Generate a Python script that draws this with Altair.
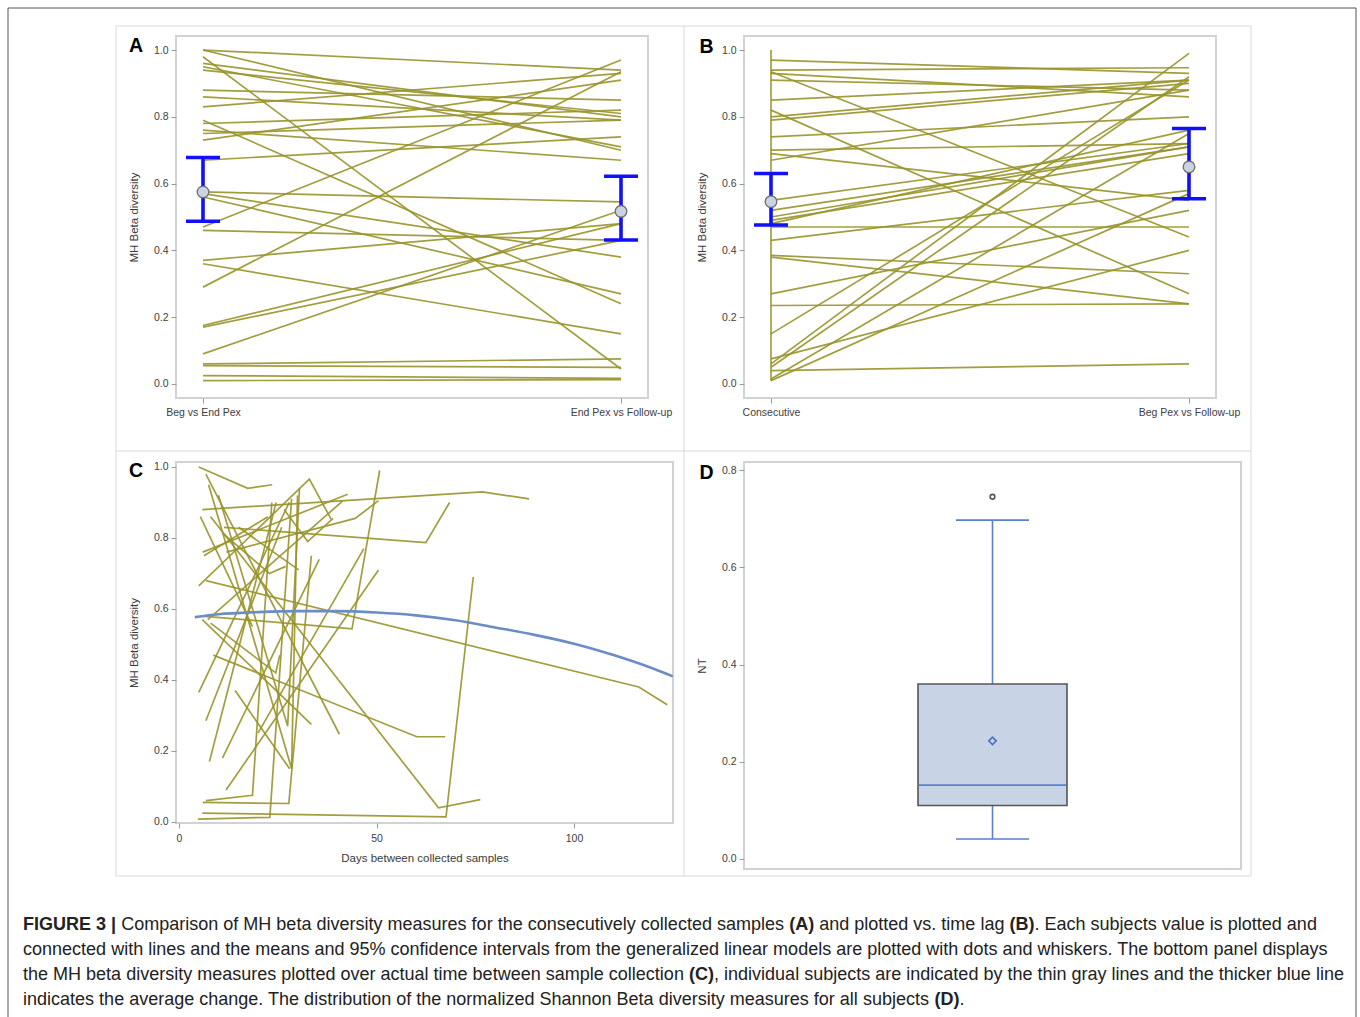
import altair as alt
import pandas as pd

FONT = "Liberation Sans"
OLIVE = "#98942a"
ERR_BLUE = "#1010ff"
LABEL_GRAY = "#404040"

# ---------------- Panel A ----------------
A_categories = ["Beg vs End Pex", "End Pex vs Follow-up"]
A_first = [1.00, 1.00, 0.98, 0.96, 0.95, 0.94, 0.88, 0.86, 0.83, 0.79, 0.78, 0.76, 0.75, 0.73, 0.67,
           0.575, 0.57, 0.56, 0.47, 0.46, 0.37, 0.36, 0.29, 0.175, 0.17, 0.09, 0.06, 0.055, 0.025, 0.01]
A_second = [0.94, 0.70, 0.045, 0.80, 0.71, 0.81, 0.85, 0.79, 0.93, 0.24, 0.82, 0.67, 0.79, 0.91, 0.74,
            0.545, 0.38, 0.27, 0.97, 0.43, 0.48, 0.15, 0.935, 0.48, 0.43, 0.52, 0.075, 0.05, 0.017, 0.013]
A_mean = [0.575, 0.517]
A_low = [0.487, 0.431]
A_high = [0.678, 0.622]

# ---------------- Panel B ----------------
B_categories = ["Consecutive", "Beg Pex vs Follow-up"]
B_first = [0.97, 0.94, 0.935, 0.93, 0.91, 0.85, 0.82, 0.80, 0.79, 0.74, 0.70, 0.69, 0.67, 0.55, 0.52,
           0.50, 0.49, 0.48, 0.47, 0.43, 0.385, 0.38, 0.27, 0.235, 0.15, 0.075, 0.06, 0.05, 0.04, 0.01, 0.015]
B_second = [0.93, 0.947, 0.44, 0.86, 0.88, 0.91, 0.27, 0.91, 0.90, 0.80, 0.72, 0.55, 0.88, 0.72, 0.71,
            0.71, 0.69, 0.76, 0.47, 0.58, 0.33, 0.24, 0.52, 0.24, 0.91, 0.40, 0.99, 0.92, 0.06, 0.57, 0.75]
B_span = [0.01, 1.0]
B_mean = [0.546, 0.650]
B_low = [0.476, 0.555]
B_high = [0.630, 0.765]

# ---------------- Panel C ----------------
C_subjects = [
    [[5.0, 1.00], [17.4, 0.94], [23.6, 0.95]],
    [[5.9, 0.88], [76.8, 0.93], [88.6, 0.91]],
    [[6.8, 0.68], [116.4, 0.38], [123.6, 0.33]],
    [[5.9, 0.025], [67.6, 0.014], [74.5, 0.69]],
    [[6.8, 0.06], [18.6, 0.075], [23.5, 0.90]],
    [[6.0, 0.055], [27.8, 0.052], [33.5, 0.75]],
    [[4.8, 0.008], [23.0, 0.013], [28.5, 0.91]],
    [[8.0, 0.86], [65.7, 0.04], [76.3, 0.063]],
    [[8.7, 0.47], [60.2, 0.24], [67.4, 0.24]],
    [[11.4, 0.83], [62.5, 0.787], [68.5, 0.90]],
    [[12.0, 0.76], [44.6, 0.855], [50.5, 0.905]],
    [[5.9, 0.58], [43.8, 0.544], [50.8, 0.99]],
    [[20.0, 0.25], [46.8, 0.77]],
    [[11.9, 0.09], [50.5, 0.71]],
    [[6.8, 0.98], [40.6, 0.247]],
    [[7.5, 0.95], [28.5, 0.15], [30.0, 0.92]],
    [[10.0, 0.92], [27.5, 0.27], [30.5, 0.94]],
    [[8.0, 0.56], [24.5, 0.42], [25.5, 0.47]],
    [[11.4, 0.81], [22.9, 0.70], [27.0, 0.72]],
    [[5.4, 0.86], [18.6, 0.55]],
    [[26.6, 0.88], [32.6, 0.79], [39.0, 0.855]],
    [[7.7, 0.17], [24.6, 0.90]],
    [[11.0, 0.18], [35.5, 0.74]],
    [[6.3, 0.75], [22.5, 0.86]],
    [[5.0, 0.365], [27.9, 0.90]],
    [[5.0, 0.665], [33.0, 0.966], [38.5, 0.853]],
    [[7.3, 0.57], [41.4, 0.904]],
    [[6.0, 0.76], [42.7, 0.923]],
    [[6.8, 0.285], [26.0, 0.83]],
    [[14.2, 0.37], [28.0, 0.15]],
    [[15.1, 0.83], [30.3, 0.71]],
    [[5.9, 0.57], [33.5, 0.275]],
]
C_fit_days = [4, 10, 20, 30, 40, 50, 60, 70, 80, 90, 100, 110, 120, 125]
C_fit_values = [0.577, 0.585, 0.591, 0.594, 0.594, 0.590, 0.582, 0.568, 0.548, 0.527, 0.502, 0.470, 0.432, 0.410]

# ---------------- Panel D ----------------
D_group = ["NT"]
D_q1 = [0.110]
D_median = [0.152]
D_q3 = [0.360]
D_whisker_low = [0.041]
D_whisker_high = [0.697]
D_mean = [0.243]
D_outlier = [0.745]

# ---------------- Caption ----------------
caption_lines = [
    [("FIGURE 3 |", True),
     (" Comparison of MH beta diversity measures for the consecutively collected samples ", False),
     ("(A)", True), (" and plotted vs. time lag ", False), ("(B)", True),
     (". Each subjects value is plotted and", False)],
    [("connected with lines and the means and 95% confidence intervals from the generalized linear "
      "models are plotted with dots and whiskers. The bottom panel displays", False)],
    [("the MH beta diversity measures plotted over actual time between sample collection ", False),
     ("(C)", True),
     (", individual subjects are indicated by the thin gray lines and the thicker blue line", False)],
    [("indicates the average change. The distribution of the normalized Shannon Beta diversity "
      "measures for all subjects ", False), ("(D)", True), (".", False)],
]

# Arial / Liberation Sans advance widths (1/1000 em)
REG_W = {" ": 278, ".": 278, ",": 278, "(": 333, ")": 333, "%": 889, "|": 260, "-": 333,
         "a": 556, "b": 556, "c": 500, "d": 556, "e": 556, "f": 278, "g": 556, "h": 556, "i": 222,
         "j": 222, "k": 500, "l": 222, "m": 833, "n": 556, "o": 556, "p": 556, "q": 556, "r": 333,
         "s": 500, "t": 278, "u": 556, "v": 500, "w": 722, "x": 500, "y": 500, "z": 500,
         "A": 667, "B": 667, "C": 722, "D": 722, "E": 667, "F": 611, "G": 778, "H": 722, "I": 278,
         "M": 833, "S": 667, "T": 611, "U": 722, "R": 722}
BOLD_W = {" ": 278, "(": 333, ")": 333, "|": 280, "A": 722, "B": 722, "C": 722, "D": 722,
          "E": 667, "F": 611, "G": 778, "I": 278, "R": 722, "U": 722}


def text_units(s, bold):
    table = BOLD_W if bold else REG_W
    return sum(table.get(ch, 556) for ch in s)


line1_units = sum(text_units(t, b) for t, b in caption_lines[0])
CAPTION_LEFT = 22
CAPTION_RIGHT1 = 1316
cap_fs = round((CAPTION_RIGHT1 - CAPTION_LEFT) * 1000.0 / line1_units, 2)

cap_rows = []
for li, segs in enumerate(caption_lines):
    cursor = CAPTION_LEFT
    for t, b in segs:
        lead = len(t) - len(t.lstrip(" "))
        xpos = cursor + text_units(" " * lead, b) * cap_fs / 1000.0
        cap_rows.append({"line": li, "x": xpos, "text": t.strip(" "), "bold": 1 if b else 0})
        cursor += text_units(t, b) * cap_fs / 1000.0
cap_df = pd.DataFrame(cap_rows)
cap_df["y"] = 924 + 25 * cap_df["line"]

# ---------------- helpers ----------------
Y_TICKS_AB = [0.0, 0.2, 0.4, 0.6, 0.8, 1.0]


def y_axis(values, title):
    return alt.Axis(values=values, format=".1f", title=title, titlePadding=14,
                    labelPadding=3, tickSize=5, labelFontSize=10.5, titleFontSize=11.5)


def letter_layer(letter, dx, dy):
    return alt.Chart(pd.DataFrame({"t": [letter]})).mark_text(
        font=FONT, fontSize=19.5, fontWeight="bold", color="black", align="center", baseline="middle"
    ).encode(text="t:N", x=alt.value(dx), y=alt.value(dy))


def pair_panel(first, second, cats, means, lows, highs, letter, span=None):
    rows = []
    for i, (a, b) in enumerate(zip(first, second)):
        rows.append({"id": str(i), "pos": 0, "ord": 0, "val": a})
        rows.append({"id": str(i), "pos": 1, "ord": 1, "val": b})
    if span is not None:
        rows.append({"id": "span", "pos": 0, "ord": 0, "val": span[0]})
        rows.append({"id": "span", "pos": 0, "ord": 1, "val": span[1]})
    df = pd.DataFrame(rows)
    err = pd.DataFrame({"pos": [0, 1], "mean": means, "lo": lows, "hi": highs})

    xs = alt.Scale(domain=[-0.0646, 1.0646], nice=False, zero=False)
    ys = alt.Scale(domain=[-0.042, 1.042], nice=False, zero=False)
    label_expr = "datum.value < 0.5 ? '%s' : '%s'" % (cats[0], cats[1])
    xaxis = alt.Axis(values=[0, 1], labelExpr=label_expr, title=None, labelPadding=4,
                     tickSize=5, labelFontSize=10.5)
    yaxis = y_axis(Y_TICKS_AB, "MH Beta diversity")

    lines = alt.Chart(df).mark_line(color=OLIVE, strokeWidth=1.7, opacity=0.9).encode(
        x=alt.X("pos:Q", scale=xs, axis=xaxis),
        y=alt.Y("val:Q", scale=ys, axis=yaxis),
        detail="id:N", order="ord:Q")
    base = alt.Chart(err).encode(x=alt.X("pos:Q", scale=xs))
    rule = base.mark_rule(color=ERR_BLUE, strokeWidth=3.6).encode(
        y=alt.Y("lo:Q", scale=ys), y2="hi:Q")
    cap_lo = base.mark_tick(color=ERR_BLUE, orient="horizontal", size=34, thickness=3.5, opacity=1).encode(
        y=alt.Y("lo:Q", scale=ys))
    cap_hi = base.mark_tick(color=ERR_BLUE, orient="horizontal", size=34, thickness=3.5, opacity=1).encode(
        y=alt.Y("hi:Q", scale=ys))
    dot = base.mark_point(shape="circle", filled=True, fill="#c9d3e3", stroke="#6e6e6e",
                          strokeWidth=1.3, size=135, opacity=1).encode(y=alt.Y("mean:Q", scale=ys))
    letter_dx = -40 if letter == "A" else -37.5
    letter_dy = 10 if letter == "A" else 10.7
    return alt.layer(lines, rule, cap_lo, cap_hi, dot, letter_layer(letter, letter_dx, letter_dy)).properties(
        width=472, height=362)


panel_a = pair_panel(A_first, A_second, A_categories, A_mean, A_low, A_high, "A")
panel_b = pair_panel(B_first, B_second, B_categories, B_mean, B_low, B_high, "B", span=B_span)

# ---------------- Panel C chart ----------------
c_rows = []
for sid, pts in enumerate(C_subjects):
    for k, (d, v) in enumerate(pts):
        c_rows.append({"id": str(sid), "ord": k, "day": d, "val": v})
c_df = pd.DataFrame(c_rows)
fit_df = pd.DataFrame({"day": C_fit_days, "val": C_fit_values})

cxs = alt.Scale(domain=[-0.76, 125.06], nice=False, zero=False)
cys = alt.Scale(domain=[-0.003, 1.014], nice=False, zero=False)
c_lines = alt.Chart(c_df).mark_line(color=OLIVE, strokeWidth=1.7, opacity=0.9).encode(
    x=alt.X("day:Q", scale=cxs,
            axis=alt.Axis(values=[0, 50, 100], title="Days between collected samples", labelPadding=5,
                          tickSize=5, labelFontSize=10.5, titleFontSize=11.5, titlePadding=9)),
    y=alt.Y("val:Q", scale=cys, axis=y_axis(Y_TICKS_AB, "MH Beta diversity")),
    detail="id:N", order="ord:Q")
c_fit = alt.Chart(fit_df).mark_line(color="#6b8cc4", strokeWidth=2.6, interpolate="monotone").encode(
    x=alt.X("day:Q", scale=cxs), y=alt.Y("val:Q", scale=cys))
panel_c = alt.layer(c_lines, c_fit, letter_layer("C", -40, 9)).properties(width=497, height=361)

# ---------------- Panel D chart ----------------
d_df = pd.DataFrame({"grp": D_group, "q1": D_q1, "med": D_median, "q3": D_q3,
                     "wlo": D_whisker_low, "whi": D_whisker_high, "mean": D_mean, "out": D_outlier})
dys = alt.Scale(domain=[-0.0206, 0.8165], nice=False, zero=False)
dbase = alt.Chart(d_df).encode(x=alt.X("grp:N", axis=None))
WHISK = "#5b7fca"
d_wlo = dbase.mark_rule(color=WHISK, strokeWidth=1.6).encode(
    y=alt.Y("wlo:Q", scale=dys, axis=alt.Axis(values=[0.0, 0.2, 0.4, 0.6, 0.8], format=".1f", title="NT",
                                              titlePadding=14, labelPadding=3, tickSize=5,
                                              labelFontSize=10.5, titleFontSize=11.5)),
    y2="q1:Q")
d_whi = dbase.mark_rule(color=WHISK, strokeWidth=1.6).encode(y=alt.Y("q3:Q", scale=dys), y2="whi:Q")
d_box = dbase.mark_bar(size=149, fill="#c8d4e6", stroke="#555555", strokeWidth=1.6).encode(
    y=alt.Y("q1:Q", scale=dys), y2="q3:Q")
d_med = dbase.mark_tick(color=WHISK, orient="horizontal", size=147, thickness=1.6, opacity=1).encode(
    y=alt.Y("med:Q", scale=dys))
d_cap_lo = dbase.mark_tick(color=WHISK, orient="horizontal", size=73, thickness=1.6, opacity=1).encode(
    y=alt.Y("wlo:Q", scale=dys))
d_cap_hi = dbase.mark_tick(color=WHISK, orient="horizontal", size=73, thickness=1.6, opacity=1).encode(
    y=alt.Y("whi:Q", scale=dys))
d_mean = dbase.mark_point(shape="diamond", filled=False, color="#4a6fc0", strokeWidth=1.6, size=55,
                          opacity=1).encode(y=alt.Y("mean:Q", scale=dys))
d_out = dbase.mark_point(shape="circle", filled=False, color="#555555", strokeWidth=1.6, size=22,
                         opacity=1).encode(y=alt.Y("out:Q", scale=dys))
panel_d = alt.layer(d_wlo, d_whi, d_box, d_med, d_cap_lo, d_cap_hi, d_mean, d_out,
                    letter_layer("D", -37.5, 10.7)).properties(width=497, height=407)

# ---------------- Caption + figure frames ----------------
one = pd.DataFrame({"k": [0]})
cxs2 = alt.Scale(domain=[175, 672], nice=False, zero=False)
cys2 = alt.Scale(domain=[932, 1032], nice=False, zero=False, reverse=True)
cap_norm = alt.Chart(cap_df).transform_filter("datum.bold == 0").mark_text(
    font=FONT, fontSize=cap_fs, align="left", baseline="middle", color="#222222").encode(
    x=alt.X("x:Q", scale=cxs2, axis=None), y=alt.Y("y:Q", scale=cys2, axis=None), text="text:N")
cap_bold = alt.Chart(cap_df).transform_filter("datum.bold == 1").mark_text(
    font=FONT, fontSize=cap_fs, fontWeight="bold", align="left", baseline="middle", color="#222222").encode(
    x=alt.X("x:Q", scale=cxs2, axis=None), y=alt.Y("y:Q", scale=cys2, axis=None), text="text:N")
outer_frame = alt.Chart(one).mark_rect(filled=False, color="#555555", strokeWidth=1).encode(
    x=alt.value(-168), x2=alt.value(1180), y=alt.value(-925), y2=alt.value(95))
panel_box = alt.Chart(one).mark_rect(filled=False, color="#d9d9d9", strokeWidth=1).encode(
    x=alt.value(-60), x2=alt.value(1075), y=alt.value(-907), y2=alt.value(-57))
v_div = alt.Chart(one).mark_rule(color="#d9d9d9", strokeWidth=1).encode(
    x=alt.value(508), y=alt.value(-907), y2=alt.value(-57))
h_div = alt.Chart(one).mark_rule(color="#d9d9d9", strokeWidth=1).encode(
    x=alt.value(-60), x2=alt.value(1075), y=alt.value(-482))
caption = alt.layer(outer_frame, panel_box, v_div, h_div, cap_norm, cap_bold).properties(
    width=497, height=100, view=alt.ViewBackground(stroke="transparent"))

chart = alt.concat(panel_a, panel_b, panel_c, panel_d, caption, columns=2,
                   spacing={"row": 64, "column": 71}, bounds="flush").properties(
    padding={"left": 6, "top": 6, "right": 0, "bottom": 0}, background="white"
).configure_view(stroke="#cfd3d6", strokeWidth=2).configure_axis(
    labelFont=FONT, titleFont=FONT, labelColor=LABEL_GRAY, titleColor="#3a3a3a", titleFontWeight="normal",
    tickColor="#9a9a9a", domain=False, grid=False)

chart.save("out.html", embed_options={"renderer": "svg", "actions": False})
